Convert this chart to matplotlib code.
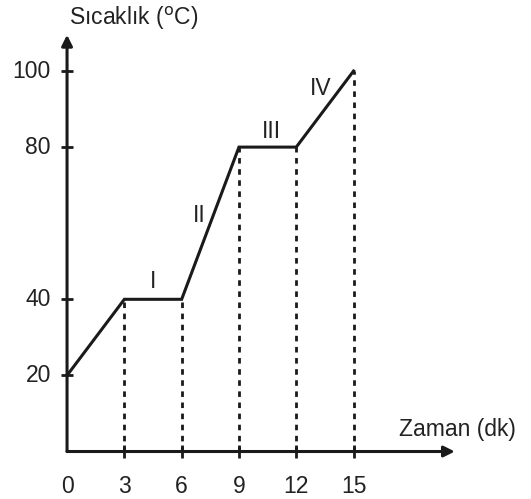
import matplotlib.pyplot as plt

# data
times = [0, 3, 6, 9, 12, 15]
temps = [20, 40, 40, 80, 80, 100]
x_ticks = [3, 6, 9, 12, 15]
x_tick_labels = ["0", "3", "6", "9", "12", "15"]
y_ticks = [20, 40, 80, 100]
phases = ["I", "II", "III", "IV"]
phase_pos = [(4.5, 44.8), (6.9, 62), (10.7, 84), (13.3, 95.5)]

plt.rcParams["font.family"] = ["Liberation Sans", "DejaVu Sans"]
fig = plt.figure(figsize=(5.31, 4.99), dpi=100)
ax = fig.add_axes([0, 0, 1, 1])
ax.set_xlim(-3.51, 24.29)
ax.set_ylim(-12.48, 118.66)
ax.axis("off")

ink = "#1a1a1a"
txt = "#222222"
fs = 16.5

# axes with arrow heads
ax.annotate("", xy=(20.3, 0), xytext=(0, 0),
            arrowprops=dict(arrowstyle="-|>", lw=2.2, color=ink, mutation_scale=16,
                            shrinkA=0, shrinkB=0))
ax.annotate("", xy=(0, 109.5), xytext=(0, 0),
            arrowprops=dict(arrowstyle="-|>", lw=2.2, color=ink, mutation_scale=16,
                            shrinkA=0, shrinkB=0))

# tick marks crossing the axes
for t in x_ticks:
    ax.plot([t, t], [-1.6, 1.6], color=ink, lw=2, solid_capstyle="butt")
for v in y_ticks:
    ax.plot([-0.3, 0.3], [v, v], color=ink, lw=2, solid_capstyle="butt")

# dotted guides
for t, v in zip(times[1:], temps[1:]):
    ax.plot([t, t], [0, v], color=ink, lw=2, ls=(0, (2, 2)))

# heating curve
ax.plot(times, temps, color=ink, lw=2.2, solid_joinstyle="miter")

# tick labels
for t, lab in zip([0] + x_ticks, x_tick_labels):
    ax.text(t, -9.3, lab, ha="center", va="center", fontsize=fs, color=txt)
for v in y_ticks:
    ax.text(-0.85, v, str(v), ha="right", va="center", fontsize=fs, color=txt)

# phase labels
for name, (px, py) in zip(phases, phase_pos):
    ax.text(px, py, name, ha="center", va="center", fontsize=fs, color=txt)

# axis titles
ax.text(0.1, 113.9, "Sıcaklık ($^{\\mathrm{o}}$C)", ha="left", va="center",
        fontsize=fs, color=txt)
ax.text(17.4, 5.8, "Zaman (dk)", ha="left", va="center", fontsize=fs, color=txt)

fig.savefig("out.png", dpi=100)
